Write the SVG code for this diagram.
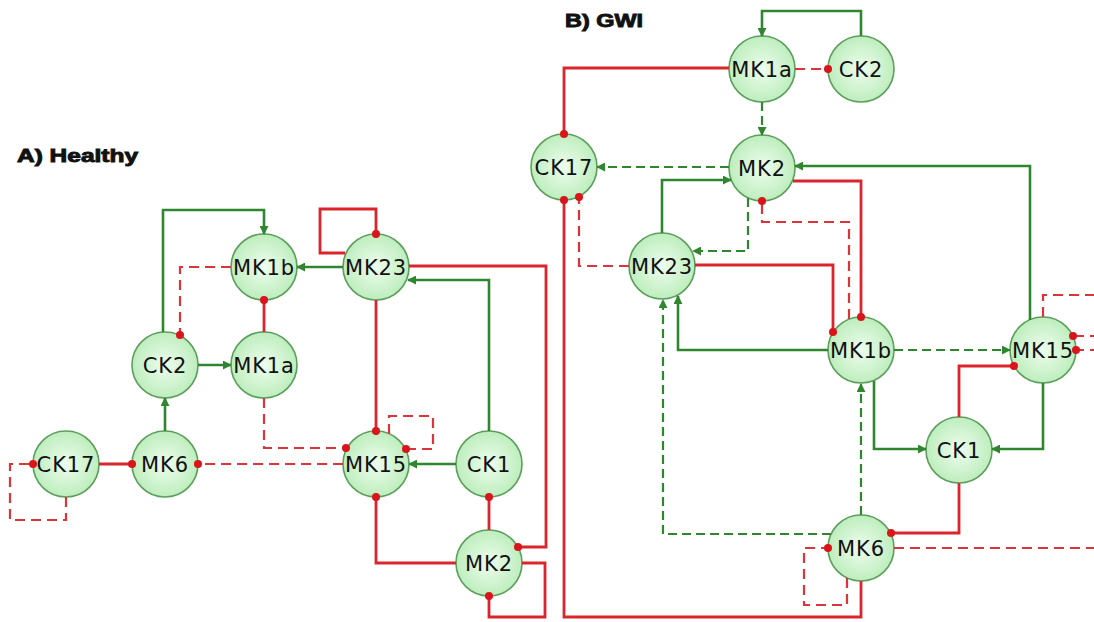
<svg xmlns="http://www.w3.org/2000/svg" width="1094" height="622" viewBox="0 0 1094 622">
<style>
.n circle{fill:url(#ng);stroke:#5c9e5c;stroke-width:1.6}
.n text{font-family:"DejaVu Sans",sans-serif;font-size:21px;fill:#111;text-anchor:middle;letter-spacing:0.9px}
.t{font-family:"Liberation Sans",Arial,sans-serif;font-weight:900;font-size:18px;fill:#111;stroke:#111;stroke-width:0.9}
.g{fill:none;stroke:#2f862f;stroke-width:2.6;marker-end:url(#ar)}
.gd{fill:none;stroke:#2f862f;stroke-width:2.2;stroke-dasharray:9 5;marker-end:url(#ar)}
.r{fill:none;stroke:#d9252b;stroke-width:2.8;marker-end:url(#dot)}
.rd{fill:none;stroke:#d9353a;stroke-width:2.2;stroke-dasharray:10 6;marker-end:url(#dot)}
.rdn{fill:none;stroke:#d9353a;stroke-width:2.2;stroke-dasharray:10 6}
</style>
<defs>
<radialGradient id="ng" cx="50%" cy="50%" r="55%">
<stop offset="0" stop-color="#eefdee"/>
<stop offset="1" stop-color="#b9ecb9"/>
</radialGradient>
<marker id="ar" viewBox="0 0 10 10" refX="9" refY="5" markerWidth="9" markerHeight="9" markerUnits="userSpaceOnUse" orient="auto">
<path d="M0,0 L10,5 L0,10 z" fill="#2f862f"/>
</marker>
<marker id="dot" viewBox="0 0 10 10" refX="5" refY="5" markerWidth="8" markerHeight="8" markerUnits="userSpaceOnUse" orient="auto">
<circle cx="5" cy="5" r="5" fill="#d9151b"/>
</marker>
</defs>
<rect width="1094" height="622" fill="#fff"/>
<text class="t" x="17" y="162" textLength="121" lengthAdjust="spacingAndGlyphs">A) Healthy</text>
<text class="t" x="565" y="27" textLength="78" lengthAdjust="spacingAndGlyphs">B) GWI</text>

<g id="nodesA">
<g id="A_MK1b" class="n"><circle cx="264" cy="267" r="33"/><text x="264" y="274.5">MK1b</text></g>
<g id="A_CK2" class="n"><circle cx="165" cy="365" r="33"/><text x="165" y="372.5">CK2</text></g>
<g id="A_MK1a" class="n"><circle cx="264" cy="365" r="33"/><text x="264" y="372.5">MK1a</text></g>
<g id="A_MK6" class="n"><circle cx="165" cy="464" r="33"/><text x="165" y="471.5">MK6</text></g>
<g id="A_CK17" class="n"><circle cx="66" cy="464" r="33"/><text x="66" y="471.5">CK17</text></g>
<g id="A_MK23" class="n"><circle cx="376" cy="267" r="33"/><text x="376" y="274.5">MK23</text></g>
<g id="A_MK15" class="n"><circle cx="376" cy="464" r="33"/><text x="376" y="471.5">MK15</text></g>
<g id="A_CK1" class="n"><circle cx="489" cy="464" r="33"/><text x="489" y="471.5">CK1</text></g>
<g id="A_MK2" class="n"><circle cx="489" cy="563" r="33"/><text x="489" y="570.5">MK2</text></g>
</g>

<g id="nodesB">
<g id="B_MK1a" class="n"><circle cx="762" cy="69" r="33"/><text x="762" y="76.5">MK1a</text></g>
<g id="B_CK2" class="n"><circle cx="861" cy="69" r="33"/><text x="861" y="76.5">CK2</text></g>
<g id="B_CK17" class="n"><circle cx="564" cy="167" r="33"/><text x="564" y="174.5">CK17</text></g>
<g id="B_MK2" class="n"><circle cx="762" cy="168" r="33"/><text x="762" y="175.5">MK2</text></g>
<g id="B_MK23" class="n"><circle cx="662" cy="266" r="33"/><text x="662" y="273.5">MK23</text></g>
<g id="B_MK1b" class="n"><circle cx="861" cy="350" r="33"/><text x="861" y="357.5">MK1b</text></g>
<g id="B_MK15" class="n"><circle cx="1043" cy="350" r="33"/><text x="1043" y="357.5">MK15</text></g>
<g id="B_CK1" class="n"><circle cx="959" cy="450" r="33"/><text x="959" y="457.5">CK1</text></g>
<g id="B_MK6" class="n"><circle cx="861" cy="548" r="33"/><text x="861" y="555.5">MK6</text></g>
</g>

<g id="connectors">
<!-- Panel A -->
<path class="g" d="M163,332 V210 H264 V234"/>
<path class="rd" d="M231,267 H180 V335"/>
<path class="r" d="M264,332 V300"/>
<path class="g" d="M198,365 H231"/>
<path class="g" d="M165,431 V398"/>
<path class="r" d="M99,464 H132"/>
<path class="rd" d="M66,497 V520 H10 V464 H33"/>
<path class="rd" d="M343,464 H198"/>
<path class="rd" d="M264,398 V448 H346"/>
<path class="rd" d="M389,434 V416 H433 V449 H406"/>
<path class="g" d="M343,267 H297"/>
<path class="r" d="M345,253 H320 V209 H376 V234"/>
<path class="r" d="M376,300 V431"/>
<path class="g" d="M489,431 V280 H408"/>
<path class="r" d="M409,266 H546 V547 H518"/>
<path class="g" d="M456,464 H409"/>
<path class="r" d="M489,530 V497"/>
<path class="r" d="M456,563 H376 V497"/>
<path class="r" d="M522,563 H545 V617 H489 V596"/>
<!-- Panel B -->
<path class="g" d="M861,36 V11 H762 V36"/>
<path class="rd" d="M795,69 H828"/>
<path class="r" d="M729,68 H564 V134"/>
<path class="gd" d="M762,102 V135"/>
<path class="gd" d="M729,167 H597"/>
<path class="g" d="M662,233 V180 H731"/>
<path class="gd" d="M748,198 V251 H693"/>
<path class="rd" d="M629,266 H579 V197"/>
<path class="r" d="M861,581 V617 H564 V200"/>
<path class="r" d="M793,181 H861 V317"/>
<path class="rd" d="M849,319 V222 H762 V201"/>
<path class="r" d="M695,265 H833 V332"/>
<path class="g" d="M828,350 H678 V296"/>
<path class="gd" d="M831,534 H663 V300"/>
<path class="gd" d="M861,515 V384"/>
<path class="gd" d="M894,350 H1010"/>
<path class="g" d="M1030,320 V166 H795"/>
<path class="g" d="M874,381 V449 H926"/>
<path class="g" d="M1043,383 V449 H992"/>
<path class="r" d="M959,417 V366 H1014"/>
<path class="r" d="M959,483 V533 H891"/>
<path class="rd" d="M847,578 V605 H804 V548 H828"/>
<path class="rdn" d="M894,548 H1100"/>
<path class="rdn" d="M1043,317 V295 H1100"/>
<path class="rd" d="M1100,336 H1073"/>
<path class="rd" d="M1100,350 H1076"/>
</g>
</svg>
